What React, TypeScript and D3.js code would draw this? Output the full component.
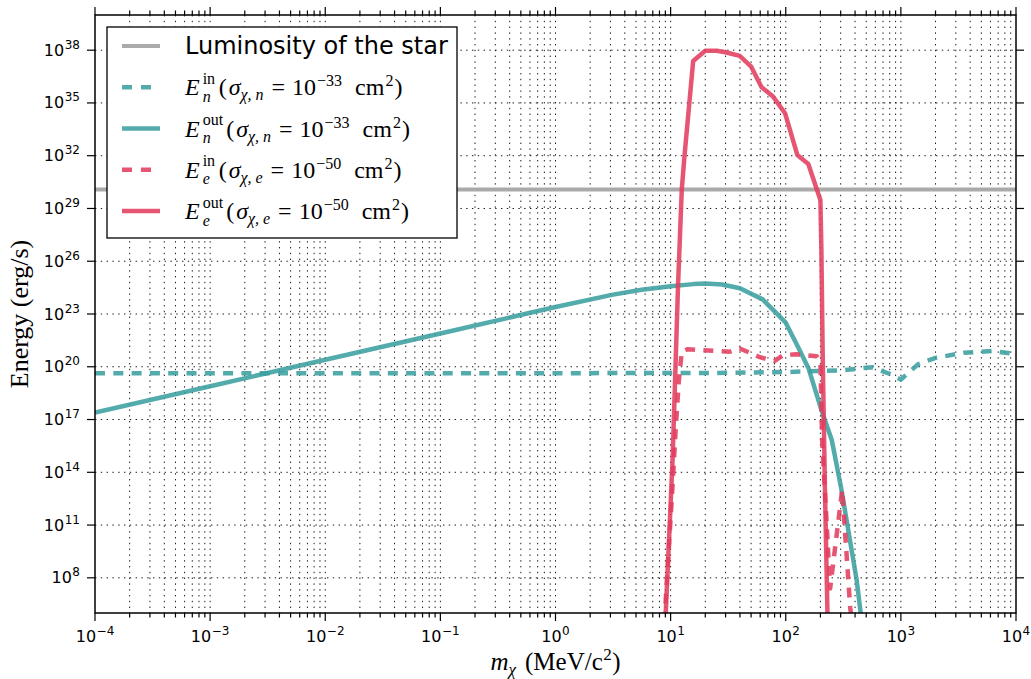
import { useEffect, useRef } from "react";
import * as d3 from "d3";

// luminosity of the star (erg/s)
const luminosity = 1.2e30;

// E_n^out, sigma_chi,n = 1e-33 cm^2
const massOutN = [1e-4, 1e-3, 1e-2, 1e-1, 1, 3.16, 5.6, 10, 15.8, 20, 28, 40, 63, 100, 126, 158, 204, 251, 305, 361, 413, 457];
const energyOutN = [2.5e17, 7.8e18, 2.5e20, 7.8e21, 2.5e23, 1.26e24, 2.4e24, 3.8e24, 5.0e24, 5.5e24, 4.8e24, 2.9e24, 6.8e23, 3.2e22, 1.6e21, 7.9e19, 3.5e17, 6.9e15, 1.0e13, 1.4e10, 7.6e7, 3.2e5];

// E_n^in
const massInN = [1e-4, 1e-2, 1, 31.6, 100, 316, 562, 794, 1000, 1413, 2000, 3548, 6310, 1e4];
const energyInN = [4.3e19, 4.3e19, 4.3e19, 4.5e19, 5.0e19, 6.3e19, 9.5e19, 4.0e19, 1.9e19, 1.4e20, 3.2e20, 6.3e20, 7.9e20, 5.2e20];

// E_e^out, sigma_chi,e = 1e-50 cm^2
const massOutE = [9.0, 10.4, 11.6, 12.5, 13.2, 15.7, 20, 25.1, 30.6, 39.8, 50.1, 61.7, 77.6, 98.6, 126, 157, 200, 204, 209, 219, 231];
const energyOutE = [3.2e5, 5.0e14, 4.5e24, 1.2e30, 1.0e32, 2.4e37, 9.3e37, 9.3e37, 7.4e37, 4.7e37, 1.15e37, 7.8e35, 2.3e35, 2.6e34, 1.1e32, 3.4e31, 3.0e29, 4e26, 1e21, 1e13, 3.2e5];

// E_e^in
const massInE = [8.7, 8.93, 10.3, 11.1, 11.8, 12.5, 14.1, 25.1, 32.7, 39.8, 59.7, 79.4, 95.5, 124, 186, 200, 207, 224, 243, 309, 363, 376];
const energyInE = [3.2e5, 1e6, 6.6e12, 3.9e16, 1.8e19, 7.2e20, 1.0e21, 7.9e20, 7.2e20, 1.1e21, 3.5e20, 2.1e20, 4.7e20, 5.1e20, 4.0e20, 2.0e20, 6.9e15, 4.9e11, 2.5e7, 1e13, 2e6, 3.2e5];

const xTickExps = [-4, -3, -2, -1, 0, 1, 2, 3, 4];
const yTickExps = [8, 11, 14, 17, 20, 23, 26, 29, 32, 35, 38];

const TEAL = "#3a9f9f";
const PINK = "#e23d5e";
const GREY = "#aaaaaa";

type Piece = { t: string; size: number; italic?: boolean; dy?: number; gap?: number; stack?: boolean };

// E_{sub}^{sup}(σ_{χ, sub} = 10^{exp} cm^2)
const energyLabel = (sup: string, sub: string, exp: string): Piece[] => [
  { t: "E", size: 24, italic: true },
  { t: sup, size: 16, dy: -11.5, gap: 3 },
  { t: sub, size: 16, italic: true, dy: 6.5, stack: true },
  { t: "(", size: 24, gap: sup === "in" ? 3.5 : 3 },
  { t: "σ", size: 24, italic: true, gap: 2 },
  { t: "χ, " + sub, size: 16, italic: true, dy: 5 },
  { t: "=", size: 24, gap: 8 },
  { t: "10", size: 24, gap: 7 },
  { t: exp, size: 16, dy: -9, gap: 1 },
  { t: "cm", size: 24, gap: 13 },
  { t: "2", size: 16, dy: -9, gap: 1 },
  { t: ")", size: 24, gap: 1 },
];

const legendItems: { color: string; dashed: boolean; width: number; sans?: boolean; pieces: Piece[] }[] = [
  { color: GREY, dashed: false, width: 4, sans: true, pieces: [{ t: "Luminosity of the star", size: 24 }] },
  { color: TEAL, dashed: true, width: 4.5, pieces: energyLabel("in", "n", "−33") },
  { color: TEAL, dashed: false, width: 4.5, pieces: energyLabel("out", "n", "−33") },
  { color: PINK, dashed: true, width: 4.5, pieces: energyLabel("in", "e", "−50") },
  { color: PINK, dashed: false, width: 4.5, pieces: energyLabel("out", "e", "−50") },
];

const SERIF = "'Liberation Serif', 'DejaVu Serif', serif";
const SANS = "'DejaVu Sans', sans-serif";

// lays out a row of text pieces (sub/superscripts) and returns its width
function mathText(parent: d3.Selection<any, any, any, any>, pieces: Piece[], family: string) {
  const g = parent.append("g").attr("font-family", family).attr("fill", "#000");
  let x = 0, lastStart = 0, lastEnd = 0;
  for (const p of pieces) {
    const start = p.stack ? lastStart : x + (p.gap ?? 0);
    const t = g.append("text")
      .attr("x", start)
      .attr("y", p.dy ?? 0)
      .attr("font-size", p.size)
      .attr("font-style", p.italic ? "italic" : "normal")
      .text(p.t);
    const w = (t.node() as SVGTextElement).getComputedTextLength();
    if (!p.stack) { lastStart = start; lastEnd = start + w; x = lastEnd; }
    else { x = Math.max(lastEnd, start + w); lastEnd = x; }
  }
  return { g, width: x };
}

export default function App() {
  const ref = useRef<SVGSVGElement>(null);

  useEffect(() => {
    if (!ref.current) return;
    const svg = d3.select(ref.current);
    svg.selectAll("*").remove();

    const left = 95, right = 1016, top = 15, bottom = 613;
    const x = d3.scaleLog().domain([1e-4, 1e4]).range([left, right]);
    const y = d3.scaleLog().domain([1e6, 1e40]).range([bottom, top]);

    svg.append("defs").append("clipPath").attr("id", "plot-clip")
      .append("rect").attr("x", left).attr("y", top).attr("width", right - left).attr("height", bottom - top);

    // grid
    const minorX: number[] = [];
    for (let e = -4; e < 4; e++) for (let k = 1; k < 10; k++) minorX.push(k * Math.pow(10, e));
    minorX.push(1e4);
    const grid = svg.append("g").attr("stroke", "#000").attr("stroke-width", 1)
      .attr("stroke-dasharray", "1.4,4.4").attr("opacity", 0.9);
    grid.selectAll("line.gx").data(minorX.filter(v => v > 1e-4 && v < 1e4)).join("line")
      .attr("class", "gx")
      .attr("x1", d => x(d)).attr("x2", d => x(d)).attr("y1", top).attr("y2", bottom);
    grid.selectAll("line.gy").data(yTickExps).join("line")
      .attr("class", "gy")
      .attr("x1", left).attr("x2", right).attr("y1", d => y(Math.pow(10, d))).attr("y2", d => y(Math.pow(10, d)));

    // curves
    const plot = svg.append("g").attr("clip-path", "url(#plot-clip)");
    const line = d3.line<[number, number]>().x(d => x(d[0])).y(d => y(d[1]));
    const series = [
      { m: massInN, e: energyInN, color: TEAL, dashed: true },
      { m: massOutN, e: energyOutN, color: TEAL, dashed: false },
      { m: massInE, e: energyInE, color: PINK, dashed: true },
      { m: massOutE, e: energyOutE, color: PINK, dashed: false },
    ];
    plot.append("line")
      .attr("x1", left).attr("x2", right).attr("y1", y(luminosity)).attr("y2", y(luminosity))
      .attr("stroke", GREY).attr("stroke-width", 4);
    series.forEach(s => {
      plot.append("path")
        .attr("d", line(s.m.map((m, i) => [m, s.e[i]] as [number, number])))
        .attr("fill", "none")
        .attr("stroke", s.color)
        .attr("stroke-width", 4.5)
        .attr("stroke-opacity", 0.87)
        .attr("stroke-linejoin", "round")
        .attr("stroke-dasharray", s.dashed ? "10,8.3" : null);
    });

    // frame
    svg.append("rect").attr("x", left).attr("y", top).attr("width", right - left).attr("height", bottom - top)
      .attr("fill", "none").attr("stroke", "#000").attr("stroke-width", 1.5);

    // ticks
    const ticks = svg.append("g").attr("stroke", "#000").attr("stroke-width", 1.2);
    const minorTicks = minorX.filter(v => !xTickExps.some(e => Math.abs(Math.log10(v) - e) < 1e-9));
    xTickExps.forEach(e => {
      const px = x(Math.pow(10, e));
      ticks.append("line").attr("x1", px).attr("x2", px).attr("y1", bottom).attr("y2", bottom + 8);
      ticks.append("line").attr("x1", px).attr("x2", px).attr("y1", top).attr("y2", top - 8);
    });
    minorTicks.forEach(v => {
      const px = x(v);
      ticks.append("line").attr("x1", px).attr("x2", px).attr("y1", bottom).attr("y2", bottom + 4.5);
      ticks.append("line").attr("x1", px).attr("x2", px).attr("y1", top).attr("y2", top - 4.5);
    });
    yTickExps.forEach(e => {
      const py = y(Math.pow(10, e));
      ticks.append("line").attr("x1", left).attr("x2", left - 8).attr("y1", py).attr("y2", py);
      ticks.append("line").attr("x1", right).attr("x2", right + 8).attr("y1", py).attr("y2", py);
    });

    // tick labels
    const expLabel = (e: number): Piece[] => [
      { t: "10", size: 16 },
      { t: e < 0 ? "−" + Math.abs(e) : String(e), size: 12, dy: -7, gap: 0.5 },
    ];
    xTickExps.forEach(e => {
      const { g, width } = mathText(svg, expLabel(e), SANS);
      g.attr("transform", `translate(${x(Math.pow(10, e)) - width / 2},${641.5})`);
    });
    yTickExps.forEach(e => {
      const { g, width } = mathText(svg, expLabel(e), SANS);
      g.attr("transform", `translate(${80 - width},${y(Math.pow(10, e)) + 5.5})`);
    });

    // axis labels
    const xl = mathText(svg, [
      { t: "m", size: 25, italic: true },
      { t: "χ", size: 17, italic: true, dy: 5 },
      { t: "(MeV/c", size: 25, gap: 9 },
      { t: "2", size: 17, dy: -10, gap: 0.5 },
      { t: ")", size: 25, gap: 0.5 },
    ], SERIF);
    xl.g.attr("transform", `translate(${(left + right) / 2 - xl.width / 2},670)`);

    svg.append("text")
      .attr("transform", `translate(28,${(top + bottom) / 2}) rotate(-90)`)
      .attr("text-anchor", "middle")
      .attr("font-family", SERIF)
      .attr("font-size", 26)
      .text("Energy (erg/s)");

    // legend
    const lg = svg.append("g");
    lg.append("rect").attr("x", 107).attr("y", 27).attr("width", 350).attr("height", 211)
      .attr("fill", "#fff").attr("stroke", "#000").attr("stroke-width", 1.3);
    const rowY = d3.scaleLinear().domain([0, legendItems.length - 1]).range([46, 211]);
    legendItems.forEach((item, i) => {
      const ry = rowY(i);
      lg.append("line")
        .attr("x1", 122).attr("x2", item.dashed ? 151 : 160).attr("y1", ry).attr("y2", ry)
        .attr("stroke", item.color).attr("stroke-width", item.width)
        .attr("stroke-opacity", item.color === GREY ? 1 : 0.87)
        .attr("stroke-dasharray", item.dashed ? "10,9" : null);
      const { g } = mathText(lg, item.pieces, item.sans ? SANS : SERIF);
      g.attr("transform", `translate(185,${ry + 8})`);
    });
  }, []);

  return (
    <svg ref={ref} width={1031} height={679}
      style={{ position: "absolute", left: 0, top: 0, background: "#fff" }} />
  );
}
